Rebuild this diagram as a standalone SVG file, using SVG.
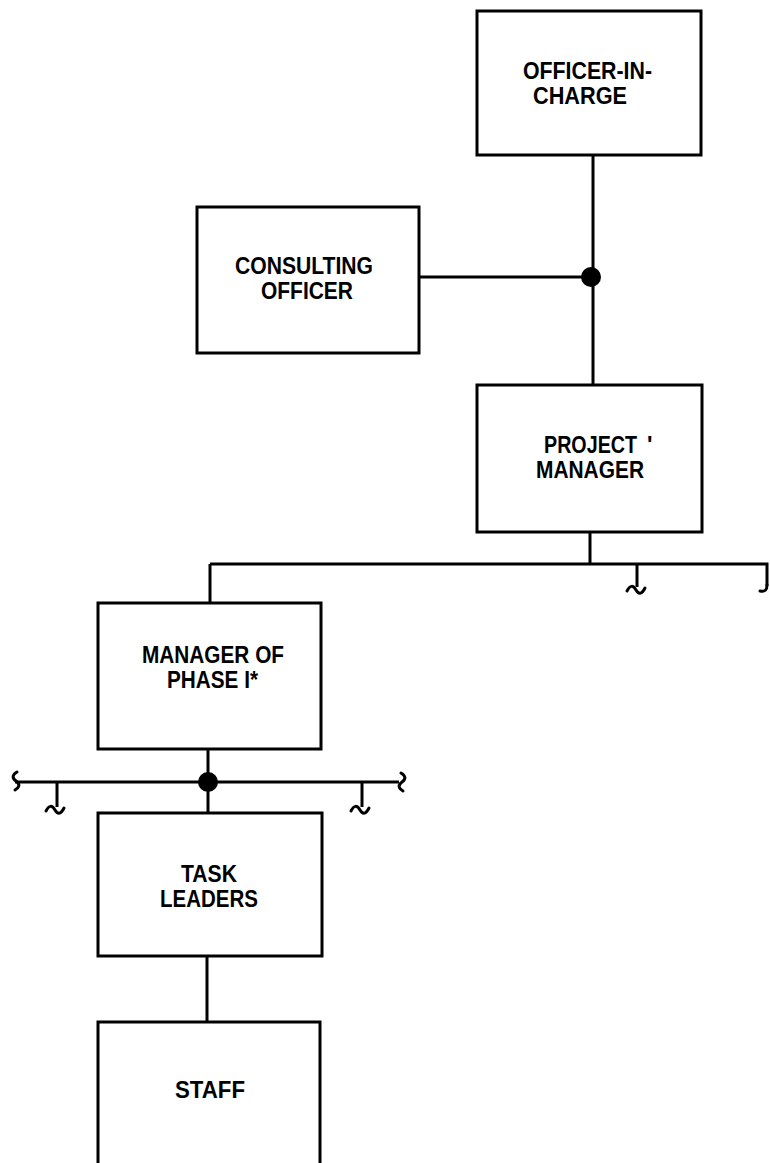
<svg xmlns="http://www.w3.org/2000/svg" width="770" height="1163" viewBox="0 0 770 1163">
<style>
.box{fill:#fff;stroke:#000;stroke-width:3}
.ln{fill:none;stroke:#000;stroke-width:3}
.sq{fill:none;stroke:#000;stroke-width:3;stroke-linecap:round}
.dot{fill:#000}
text{font-family:"Liberation Sans",Arial,sans-serif;font-weight:bold;font-size:23px;fill:#000}
</style>
<rect width="770" height="1163" fill="#fff"/>
<g id="connectors">
<path class="ln" d="M593,155 V385"/>
<path class="ln" d="M419,277 H591"/>
<path class="ln" d="M590,532 V564"/>
<path class="ln" d="M210,564 H767 V586"/>
<path class="ln" d="M210,564 V603"/>
<path class="ln" d="M637,564 V587"/>
<path class="sq" d="M627,591 c3,-6 6,-6 9,-1 s6,4 9,-2"/>
<path class="sq" d="M767,585 c0,5 -2,7 -7,6"/>
<path class="ln" d="M208,749 V813"/>
<path class="ln" d="M15,782 H399"/>
<path class="sq" d="M17,772 c-5,3 -5,6 -1,9 s4,6 -1,9"/>
<path class="sq" d="M401,773 c5,3 5,6 1,9 s-4,6 1,9"/>
<path class="ln" d="M57,782 V807"/>
<path class="sq" d="M46,811 c3,-6 6,-6 9,-1 s6,4 9,-2"/>
<path class="ln" d="M362,782 V807"/>
<path class="sq" d="M351,811 c3,-6 6,-6 9,-1 s6,4 9,-2"/>
<path class="ln" d="M207,956 V1022"/>
<circle class="dot" cx="591" cy="277" r="10"/>
<circle class="dot" cx="208" cy="782" r="10"/>
</g>
<g id="officer-in-charge">
<rect class="box" x="477" y="11" width="224" height="144"/>
<text x="523" y="79" textLength="129" lengthAdjust="spacingAndGlyphs">OFFICER-IN-</text>
<text x="533" y="104" textLength="94" lengthAdjust="spacingAndGlyphs">CHARGE</text>
</g>
<g id="consulting-officer">
<rect class="box" x="197" y="207" width="222" height="146"/>
<text x="235" y="274" textLength="138" lengthAdjust="spacingAndGlyphs">CONSULTING</text>
<text x="261" y="299" textLength="92" lengthAdjust="spacingAndGlyphs">OFFICER</text>
</g>
<g id="project-manager">
<rect class="box" x="477" y="385" width="225" height="147"/>
<text transform="matrix(0.857 0 0 1 544 453)">PROJECT</text>
<text x="647" y="453">'</text>
<text x="536" y="478" textLength="108" lengthAdjust="spacingAndGlyphs">MANAGER</text>
</g>
<g id="manager-phase-1">
<rect class="box" x="98" y="603" width="223" height="146"/>
<text x="142" y="663" textLength="142" lengthAdjust="spacingAndGlyphs">MANAGER OF</text>
<text x="167" y="688" textLength="91" lengthAdjust="spacingAndGlyphs">PHASE I*</text>
</g>
<g id="task-leaders">
<rect class="box" x="98" y="813" width="224" height="143"/>
<text x="181" y="882" textLength="56" lengthAdjust="spacingAndGlyphs">TASK</text>
<text x="160" y="907" textLength="98" lengthAdjust="spacingAndGlyphs">LEADERS</text>
</g>
<g id="staff">
<rect class="box" x="98" y="1022" width="222" height="160"/>
<text x="175" y="1098" textLength="70" lengthAdjust="spacingAndGlyphs">STAFF</text>
</g>
</svg>
